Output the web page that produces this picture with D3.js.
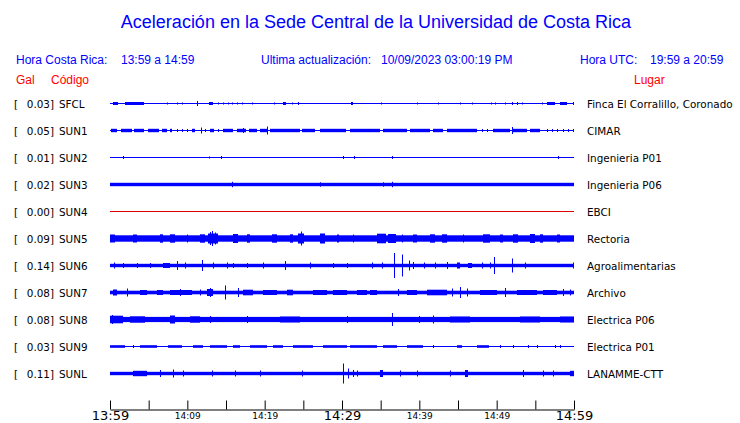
<!DOCTYPE html>
<html><head><meta charset="utf-8">
<script src="https://cdn.jsdelivr.net/npm/d3@7"></script>
<style>html,body{margin:0;padding:0;background:#fff;}svg{display:block;}</style>
</head><body>
<script>
// ---------- data ----------
const stations = ["SFCL","SUN1","SUN2","SUN3","SUN4","SUN5","SUN6","SUN7","SUN8","SUN9","SUNL"];
const places = ["Finca El Corralillo, Coronado","CIMAR","Ingenieria P01","Ingenieria P06","EBCI","Rectoria","Agroalimentarias","Archivo","Electrica P06","Electrica P01","LANAMME-CTT"];
const peakGal = ["0.03","0.05","0.01","0.02","0.00","0.09","0.14","0.08","0.08","0.03","0.11"];
// background noise half-amplitude (relative units)
const baseAmp = [0.5,0.5,0.5,1.7,0.5,3.2,1.7,1.8,2.6,0.5,1.7];
// bursts: [start minute, end minute, half-amplitude], minutes after 13:59
const burstsSFCL = [[0.4,1.0,1.5],[1.9,4.4,1.5],[7.4,7.4,1],[8.7,8.7,1],[9.3,9.3,1],[11.3,11.4,2.5],[12.8,13.3,1.5],[14.0,14.0,1],[14.6,14.6,1],[15.3,15.3,1],[15.8,15.8,1],[16.4,16.4,1],[17.1,17.1,1],[18.4,18.4,1],[21.2,21.2,1],[22.4,22.8,1.5],[23.5,23.5,1],[24.3,24.3,1.5],[31.2,31.4,1.5],[35.0,35.0,1],[39.7,39.7,1],[42.4,42.4,1],[45.3,45.3,1],[46.8,46.8,1],[49.3,49.3,1],[49.8,49.8,1],[51.1,51.1,1],[52.0,52.0,1.5],[52.6,52.6,1.5],[53.3,53.3,1],[55.9,55.9,1],[56.5,57.5,1.5],[58.2,59.1,1.5],[59.9,59.9,1.5]];
const burstsSUN1 = [[0.1,0.9,1.7],[1.4,2.8,1.7],[3.1,4.4,1.7],[4.9,6.3,1.7],[6.7,7.4,1.7],[7.8,8.0,1.7],[8.7,8.7,1.5],[9.3,9.3,1.5],[10.0,10.0,1.5],[10.6,11.0,1.7],[11.8,11.8,3],[12.3,12.3,1.5],[12.9,13.4,1.7],[14.0,14.0,1.5],[14.6,15.9,1.7],[16.4,17.5,1.7],[17.2,17.2,2.5],[18.0,19.0,1.7],[19.4,20.3,1.7],[20.3,20.3,4],[20.7,24.6,1.7],[24.8,26.5,1.7],[27.2,30.6,1.7],[31.0,33.6,1.7],[33.6,34.9,1.7],[35.3,38.4,1.7],[38.8,41.4,1.7],[41.8,43.1,1.7],[43.6,47.5,1.7],[48.1,48.1,1.5],[48.8,48.8,1.5],[49.5,51.7,1.7],[52.0,52.0,3.5],[52.1,53.9,1.7],[54.3,55.6,1.7],[56.5,56.5,1.5],[57.2,57.2,1.5],[57.8,57.8,1.5],[58.6,58.6,1.5],[59.2,59.2,1.5],[59.9,59.9,1.5]];
const burstsSUN2 = [[1.7,1.7,1.5],[12.8,12.8,1],[14.4,14.4,1.5],[30.1,30.1,1.5],[31.6,31.6,1.5],[36.5,36.5,1.5],[57.9,57.9,1.5]];
const burstsSUN3 = [[15.8,15.8,2.7],[27.2,27.2,2.2],[35.3,35.3,2.2],[36.5,36.5,2.7]];
const burstsSUN4 = [];
const burstsSUN5 = [[0.0,0.6,4],[3.0,3.5,4],[6.5,6.9,4.2],[7.8,8.4,4.2],[10.0,10.0,4],[11.6,12.3,4.2],[12.7,14.0,5],[12.9,12.9,6.5],[13.2,13.3,7.5],[13.6,13.6,6],[15.9,16.6,4.5],[17.7,18.1,4.2],[20.9,21.6,4.2],[23.3,23.7,4.2],[24.3,25.1,5],[24.7,24.8,7],[27.2,27.8,5],[29.4,29.7,4],[31.4,31.4,4],[34.5,35.6,4.8],[35.9,36.9,4.5],[37.8,37.8,4],[39.2,39.7,4],[41.4,42.0,4.2],[42.9,43.6,4.2],[45.6,45.6,4],[48.2,49.1,4.2],[50.4,50.8,4],[52.1,52.8,4.2],[54.3,55.0,4.5],[55.6,56.0,4.2],[57.8,58.2,4]];
const burstsSUN6 = [[0.5,0.5,3],[1.7,1.7,2.5],[3.5,3.5,2.5],[5.2,5.2,2.5],[6.9,7.8,2.5],[8.7,8.7,4.5],[9.7,9.7,3],[11.9,11.9,5.5],[13.3,13.3,3],[15.1,15.1,3],[15.9,15.9,2.5],[17.7,17.7,2.5],[19.8,19.8,3],[22.6,22.6,4.5],[25.9,25.9,3],[28.8,28.8,2.5],[30.6,30.6,2.5],[33.9,33.9,3],[35.2,35.2,3],[36.7,36.7,12.5],[37.8,37.8,11],[38.7,38.7,5],[39.2,39.2,3.5],[40.6,40.6,3],[42.0,42.0,3],[43.6,43.6,3.5],[44.9,45.3,3],[46.3,46.8,2.5],[48.1,48.1,3],[49.1,49.1,3],[49.7,49.7,8.5],[52.0,52.0,7],[53.7,53.7,3],[59.9,59.9,3]];
const burstsSUN7 = [[0.4,0.9,3],[2.2,2.2,4],[3.9,4.8,2.5],[6.1,6.9,2.5],[7.8,10.7,2.5],[9.1,9.1,3.5],[11.6,11.6,3],[12.5,13.3,3.5],[12.9,12.9,4.5],[14.9,14.9,7],[16.6,16.6,4.5],[17.2,18.5,2.8],[19.8,21.6,2.5],[22.9,23.7,2.8],[26.3,28.1,2.5],[28.8,30.6,2.5],[31.9,33.2,2.5],[33.6,34.5,2.5],[37.2,37.2,3.5],[38.4,39.7,2.5],[41.0,43.6,2.8],[44.2,44.2,4],[45.3,45.3,5.5],[46.2,46.2,4],[47.8,50.0,2.5],[51.1,51.1,4.5],[52.6,55.2,2.5],[56.0,57.8,2.5],[58.6,58.6,3.5],[59.5,59.5,3]];
const burstsSUN8 = [[0.0,1.7,3.8],[0.3,0.3,4.5],[2.6,4.5,3.2],[7.8,8.4,4],[10.3,11.6,3.2],[12.9,12.9,3.5],[17.7,17.7,3.5],[22.0,24.6,3],[30.6,30.6,3.5],[36.5,36.5,6.5],[40.0,40.0,3.5],[41.8,41.8,4],[44.0,46.6,3],[53.0,55.6,3],[58.2,60.0,3]];
const burstsSUN9 = [[0.0,1.9,1.3],[3.0,3.0,1.5],[3.9,6.1,1.3],[7.5,9.3,1.3],[10.7,12.0,1.3],[12.9,15.1,1.3],[15.9,16.8,1.3],[18.1,20.3,1.3],[21.1,22.4,1.3],[23.7,26.3,1.3],[27.5,30.6,1.3],[31.0,33.6,1.3],[33.6,34.5,1.3],[35.3,37.1,1.3],[38.4,40.5,1.3],[41.8,41.8,1.5],[44.9,45.6,1.3],[47.5,49.1,1.3],[50.4,50.4,1.5],[52.1,52.1,1.5],[54.1,54.1,1.5],[55.2,55.2,1.5],[57.5,57.5,1.5],[58.2,58.2,1.5]];
const burstsSUNL = [[3.0,4.8,2.7],[6.5,6.5,3.5],[8.1,8.1,4],[9.4,9.4,3],[13.2,13.2,3],[16.2,16.2,3],[19.4,19.4,3],[24.8,24.8,3],[30.1,30.1,10],[30.8,30.8,5],[31.4,31.4,3.5],[31.9,31.9,3],[34.9,35.3,3.5],[37.5,37.5,3],[39.7,39.7,3],[44.0,44.0,3],[45.9,46.3,3.5],[53.4,53.4,3.5],[56.0,56.0,3],[57.3,57.3,3],[59.5,60.0,2.7]];
const bursts = [burstsSFCL,burstsSUN1,burstsSUN2,burstsSUN3,burstsSUN4,burstsSUN5,burstsSUN6,burstsSUN7,burstsSUN8,burstsSUN9,burstsSUNL];
const tickMinutes = [0,5,10,15,20,25,30,35,40,45,50,55,60];
const tickLabels = {0:"13:59",10:"14:09",20:"14:19",30:"14:29",40:"14:39",50:"14:49",60:"14:59"};
const majorLabels = [0,30,60];

const titleText = "Aceleración en la Sede Central de la Universidad de Costa Rica";
const headerTexts = ["Hora Costa Rica:","13:59 a 14:59","Ultima actualización:","10/09/2023 03:00:19 PM","Hora UTC:","19:59 a 20:59"];

// ---------- drawing ----------
const W = 740, H = 423;
const svg = d3.select("body").append("svg").attr("width",W).attr("height",H);
const BLUE = "#0000ff", RED = "#ff0000";
const sans = "'Liberation Sans', Arial, sans-serif";
const dv = "'DejaVu Sans', sans-serif";

svg.append("text").attr("x",376).attr("y",28).attr("text-anchor","middle")
  .attr("font-family",sans).attr("font-size",18).attr("fill",BLUE).text(titleText);

const hx = [16,121,261,381,580,650];
headerTexts.forEach((t,i)=>svg.append("text").attr("x",hx[i]).attr("y",64)
  .attr("font-family",sans).attr("font-size",12).attr("fill",BLUE).text(t));
[["Gal",16],["Código",51],["Lugar",634]].forEach(([t,x])=>svg.append("text").attr("x",x).attr("y",84)
  .attr("font-family",sans).attr("font-size",12).attr("fill",RED).text(t));

const x = d3.scaleLinear().domain([0,60]).range([110,574]);
const y = d3.scalePoint().domain(stations).range([103.5,373.5]);
const amp = d3.scaleLinear().domain([0,10]).range([0,10]);

const rows = svg.append("g").selectAll("g").data(stations).join("g")
  .attr("transform",s=>`translate(0,${y(s)})`);

rows.each(function(s,i){
  const g = d3.select(this);
  const col = +peakGal[i] === 0 ? "#dd0000" : BLUE;
  const b = baseAmp[i];
  g.append("rect").attr("x",x(0)).attr("width",x(60)-x(0))
    .attr("y",-amp(b)).attr("height",2*amp(b)).attr("fill",col);
  g.selectAll("rect.burst").data(bursts[i]).join("rect").attr("class","burst")
    .attr("x",d=>Math.round(x(d[0])))
    .attr("width",d=>Math.max(1,Math.round(x(d[1])-x(d[0]))))
    .attr("y",d=>-amp(d[2])).attr("height",d=>2*amp(d[2])).attr("fill",col);
  g.append("text").attr("x",14).attr("y",4).attr("font-family",dv).attr("font-size",10.4).text("[");
  g.append("text").attr("x",54).attr("y",4).attr("text-anchor","end").attr("font-family",dv).attr("font-size",10.4).text(peakGal[i]+"]");
  g.append("text").attr("x",59).attr("y",4).attr("font-family",dv).attr("font-size",10.4).text(s);
  g.append("text").attr("x",587).attr("y",4).attr("font-family",dv).attr("font-size",10.4).text(places[i]);
});

const axis = d3.axisBottom(x).tickValues(tickMinutes).tickSize(-9).tickSizeOuter(0)
  .tickFormat(m=>tickLabels[m]||"");
const ag = svg.append("g").attr("transform","translate(0,409.5)").call(axis);
ag.select(".domain").attr("stroke","#000");
ag.selectAll(".tick line").attr("stroke","#000");
ag.selectAll(".tick text").attr("font-family",dv).attr("fill","#000")
  .attr("font-size",m=>majorLabels.includes(m)?13:9)
  .attr("y",m=>majorLabels.includes(m)?1.5:3);
</script>
</body></html>
